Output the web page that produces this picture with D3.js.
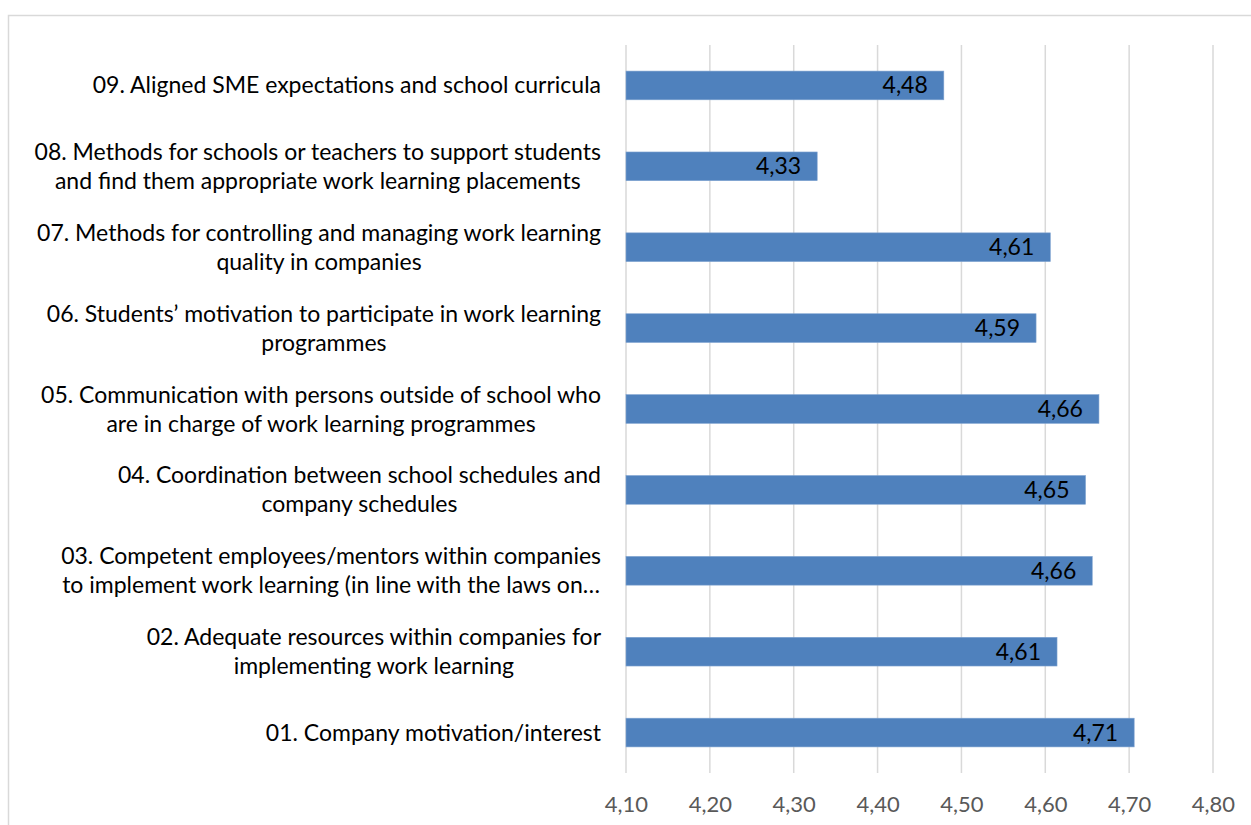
<!DOCTYPE html>
<html>
<head>
<meta charset="utf-8">
<script src="https://cdn.jsdelivr.net/npm/d3@7/dist/d3.min.js"></script>
<style>
  html, body { margin: 0; padding: 0; background: #ffffff; }
  svg { display: block; }
</style>
</head>
<body>
<svg id="chart" width="1251" height="825"></svg>
<script>
// Survey items, top to bottom; "\n" marks a wrapped line.
const categories = [
  "09. Aligned SME expectations and school curricula",
  "08. Methods for schools or teachers to support students\nand find them appropriate work learning placements",
  "07. Methods for controlling and managing work learning\nquality in companies",
  "06. Students\u2019 motivation to participate in work learning\nprogrammes",
  "05. Communication with persons outside of school who\nare in charge of work learning programmes",
  "04. Coordination between school schedules and\ncompany schedules",
  "03. Competent employees/mentors within companies\nto implement work learning (in line with the laws on\u2026",
  "02. Adequate resources within companies for\nimplementing work learning",
  "01. Company motivation/interest"
];

// Mean rating per item (same order as categories).
const values = [4.479, 4.328, 4.606, 4.589, 4.664, 4.648, 4.656, 4.614, 4.706];

// Value axis ticks.
const tickValues = [4.10, 4.20, 4.30, 4.40, 4.50, 4.60, 4.70, 4.80];

const FONT = "Lato, 'Open Sans', sans-serif";
const svg = d3.select("#chart");

const locale = d3.formatLocale({ decimal: ",", thousands: ".", grouping: [3], currency: ["", " €"] });
const fmt = locale.format(".2f");

// Outer chart frame
svg.append("rect")
  .attr("x", 8.5).attr("y", 15.5)
  .attr("width", 1300).attr("height", 900)
  .attr("fill", "#ffffff")
  .attr("stroke", "#d9d9d9")
  .attr("stroke-width", 1.5);

const plot = { left: 626, right: 1213, top: 45, bottom: 773 };

const x = d3.scaleLinear().domain([4.1, 4.8]).range([plot.left, plot.right]);
const y = d3.scaleBand()
  .domain(categories)
  .range([plot.top, plot.bottom])
  .paddingInner(0.645)
  .paddingOuter(0.3225);

// Vertical gridlines
svg.append("g")
  .selectAll("line")
  .data(tickValues)
  .join("line")
  .attr("x1", d => x(d)).attr("x2", d => x(d))
  .attr("y1", plot.top).attr("y2", plot.bottom)
  .attr("stroke", "#d9d9d9")
  .attr("stroke-width", 1.5);

// Bottom axis labels (no domain line, no tick marks)
const xAxis = d3.axisBottom(x)
  .tickValues(tickValues)
  .tickFormat(d => fmt(d))
  .tickSize(0)
  .tickPadding(0);

const axisG = svg.append("g")
  .attr("transform", `translate(0, ${plot.bottom + 39})`)
  .call(xAxis);
axisG.select(".domain").remove();
axisG.selectAll("text")
  .attr("dy", 0)
  .attr("fill", "#595959")
  .style("font-family", FONT)
  .style("font-size", "22px");

// Bars
svg.append("g")
  .selectAll("rect")
  .data(values)
  .join("rect")
  .attr("x", x(4.1))
  .attr("y", (d, i) => y(categories[i]))
  .attr("width", d => x(d) - x(4.1))
  .attr("height", y.bandwidth())
  .attr("fill", "#4f81bd")
  .attr("stroke", "#7fa3d0")
  .attr("stroke-width", 0.6);

// Value labels inside bar ends
svg.append("g")
  .selectAll("text")
  .data(values)
  .join("text")
  .attr("x", d => x(d) - 16)
  .attr("y", (d, i) => y(categories[i]) + y.bandwidth() / 2)
  .attr("dy", "0.35em")
  .attr("text-anchor", "end")
  .attr("fill", "#000000")
  .style("font-family", FONT)
  .style("font-size", "23px")
  .text(d => fmt(d));

// Category labels: block right-aligned to the axis, lines centred within it
const labelRight = 601;
const lineH = 29;
const labelG = svg.append("g");
categories.forEach(cat => {
  const lines = cat.split("\n");
  const cy = y(cat) + y.bandwidth() / 2;
  const t = labelG.append("text")
    .attr("text-anchor", "middle")
    .attr("fill", "#000000")
    .style("font-family", FONT)
    .style("font-size", "23px");
  const spans = lines.map((ln, k) =>
    t.append("tspan")
      .attr("y", cy + (k - (lines.length - 1) / 2) * lineH)
      .attr("dy", "0.35em")
      .text(ln));
  const maxW = d3.max(spans, s => s.node().getComputedTextLength());
  spans.forEach(s => s.attr("x", labelRight - maxW / 2));
});
</script>
</body>
</html>
